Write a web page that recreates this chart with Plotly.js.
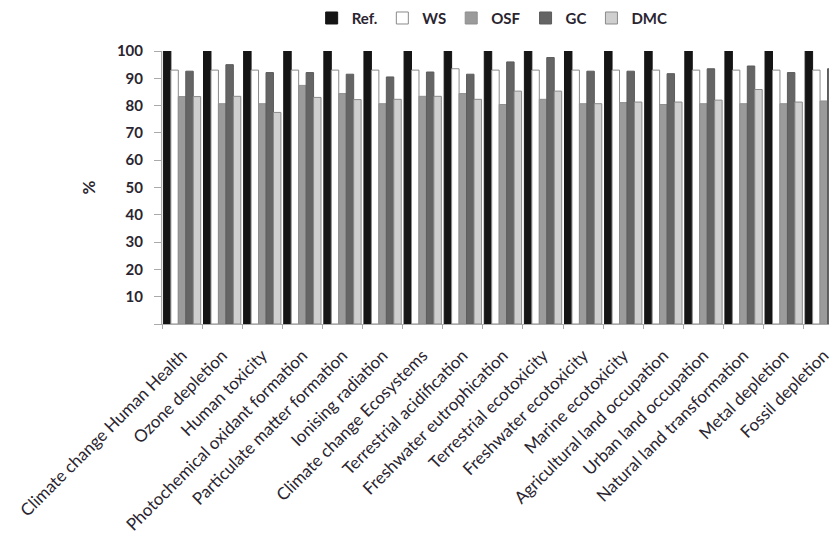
<!DOCTYPE html>
<html><head><meta charset="utf-8">
<script src="https://cdn.plot.ly/plotly-3.0.1.min.js"></script>
<style>html,body{margin:0;padding:0;background:#fff;overflow:hidden}#chart{width:829px;height:537px}</style>
</head><body><div id="chart"></div>
<script>
const categories = ["Climate change Human Health","Ozone depletion","Human toxicity","Photochemical oxidant formation","Particulate matter formation","Ionising radiation","Climate change Ecosystems","Terrestrial acidification","Freshwater eutrophication","Terrestrial ecotoxicity","Freshwater ecotoxicity","Marine ecotoxicity","Agricultural land occupation","Urban land occupation","Natural land transformation","Metal depletion","Fossil depletion"];
const seriesNames = ["Ref.","WS","OSF","GC","DMC"];
const refVals = [100,100,100,100,100,100,100,100,100,100,100,100,100,100,100,100,100];
const wsVals  = [93,93,93,93,93,93,93,93.5,93,93,93,93,93,93,93,93,93];
const osfVals = [83.3,80.7,80.7,87.4,84.4,80.7,83.4,84.4,80.4,82.3,80.7,81.1,80.4,80.7,80.7,80.7,81.7];
const gcVals  = [92.6,95,92.1,92.1,91.5,90.5,92.3,91.5,96,97.6,92.6,92.6,91.7,93.5,94.5,92.1,93.5];
const dmcVals = [83.3,83.4,77.5,83,82.2,82.3,83.4,82.3,85.3,85.3,80.7,81.3,81.3,82,85.9,81.3,81];
const yTickVals = [0,10,20,30,40,50,60,70,80,90,100];
const yTickText = ["","10","20","30","40","50","60","70","80","90","100"];

const textColor = "#2a2530";
const styles = [
  {fill:"#151515", line:"#151515"},
  {fill:"#ffffff", line:"#8a8a8a"},
  {fill:"#9b9b9b", line:"#8f8f8f"},
  {fill:"#656565", line:"#5c5c5c"},
  {fill:"#cfcfcf", line:"#8a8a8a"}
];
const vals = [refVals, wsVals, osfVals, gcVals, dmcVals];
const traces = vals.map((v,i)=>({
  type:"bar", name:seriesNames[i], x:categories, y:v,
  marker:{color:styles[i].fill, line:{color:styles[i].line, width:1}},
  hoverinfo:"skip"
}));

const layout = {
  width:829, height:537,
  margin:{l:162, r:0, t:51, b:213},
  paper_bgcolor:"#fff", plot_bgcolor:"#fff",
  barmode:"group", bargap:0.07, bargroupgap:0,
  font:{family:"Lato, 'Open Sans', sans-serif", color:textColor},
  showlegend:true,
  legend:{orientation:"h", x:0.495, xanchor:"center", y:1.12, yanchor:"middle",
    font:{size:15, family:"Lato", weight:"bold", color:textColor}, traceorder:"normal",
    itemwidth:30},
  xaxis:{type:"category", range:[-0.5,16.13], tickangle:-45, tickson:"boundaries",
    ticks:"outside", ticklen:4, tickcolor:"#aaa", showline:true, linecolor:"#aaa",
    ticklabelstandoff:14,
    showgrid:false, tickfont:{size:17, color:textColor}, fixedrange:true},
  yaxis:{range:[0,100], tickvals:yTickVals, ticktext:yTickText, ticks:"outside",
    ticklen:7, tickcolor:"#aaa", showline:true, linecolor:"#aaa", showgrid:false,
    ticklabelstandoff:8,
    zeroline:false, tickfont:{size:15, weight:"bold", color:textColor},
    title:{text:"%", font:{size:17, weight:"bold", color:textColor}, standoff:16}}
};
Plotly.newPlot("chart", traces, layout, {staticPlot:true});
</script></body></html>
